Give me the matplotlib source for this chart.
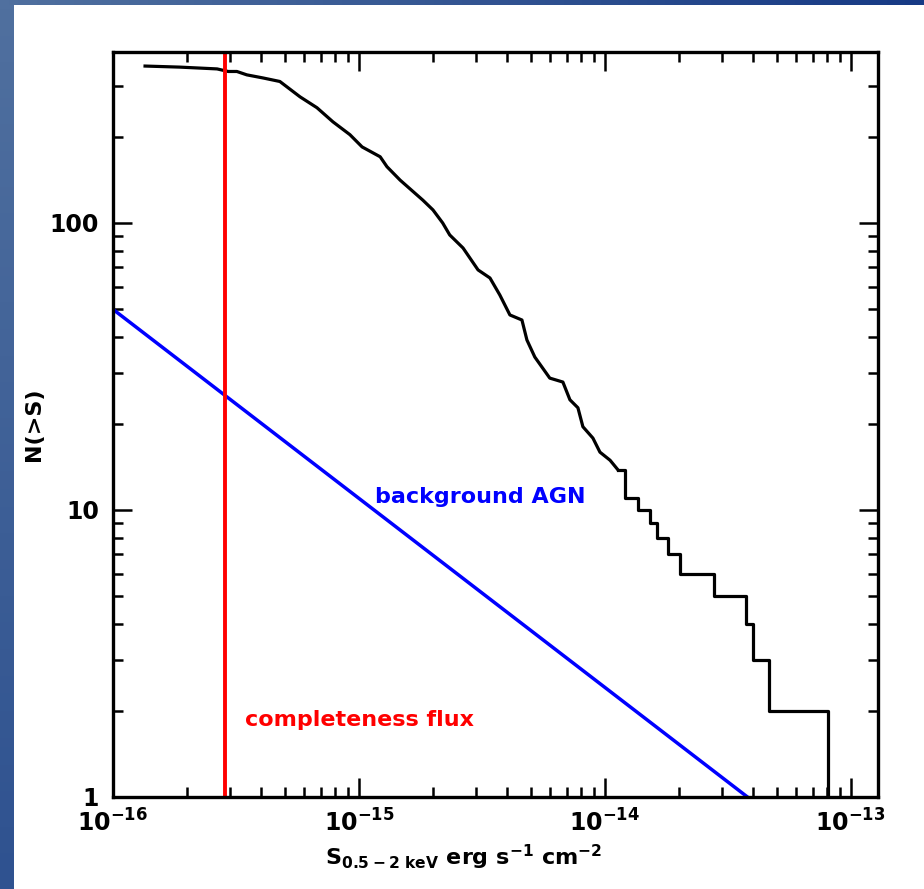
import numpy as np
import matplotlib
matplotlib.use("Agg")
import matplotlib.pyplot as plt
from matplotlib.ticker import FuncFormatter, NullFormatter
from matplotlib.colors import LinearSegmentedColormap

## Data
# N(>S), dense (well sampled) part of the curve
flux_dense = [1.35e-16, 1.87e-16, 2.65e-16, 2.94e-16, 3.19e-16, 3.5e-16, 4.07e-16,
              4.77e-16, 5.76e-16, 6.75e-16, 7.84e-16, 9.19e-16, 1.03e-15, 1.22e-15,
              1.30e-15, 1.47e-15, 1.82e-15, 2.0e-15, 2.19e-15, 2.34e-15, 2.65e-15,
              3.05e-15, 3.41e-15, 3.74e-15, 4.11e-15, 4.60e-15, 4.82e-15, 5.19e-15,
              5.97e-15, 6.75e-15, 7.21e-15, 7.77e-15, 8.14e-15, 8.94e-15, 9.55e-15,
              1.05e-14, 1.13e-14]
n_dense = [352, 349, 344, 337, 337, 328, 320, 311, 275, 252, 225, 203, 184, 170,
           157, 141, 120, 111, 100, 90.8, 81.8, 68.6, 64.3, 56.1, 47.8, 45.9, 39.1,
           34.1, 28.8, 27.9, 24.2, 22.7, 19.5, 17.8, 15.9, 14.9, 13.8]

# bright end: individual sources (flux where N drops, N after the drop)
flux_step = [1.21e-14, 1.37e-14, 1.52e-14, 1.63e-14, 1.80e-14, 2.02e-14,
             2.78e-14, 3.74e-14, 4.0e-14, 4.65e-14, 8.07e-14]
n_step = [11, 10, 9, 8, 7, 6, 5, 4, 3, 2, 1]

# background AGN expectation (straight line in log-log)
agn_flux = [1e-16, 3.8e-14]
agn_n = [50, 1]

# completeness flux
s_compl = 2.85e-16

## Style
plt.rcParams['font.family'] = ['DejaVu Sans']
plt.rcParams['font.weight'] = 'bold'
plt.rcParams['axes.labelweight'] = 'bold'
plt.rcParams['mathtext.default'] = 'bf'

fig = plt.figure(figsize=(9.24, 8.89), dpi=100)
fig.patch.set_facecolor('white')

## blue slide border (left and top)
left_strip = fig.add_axes([0, 0, 14 / 924, 1])
left_strip.imshow(np.linspace(0, 1, 100).reshape(-1, 1), aspect='auto',
                  cmap=LinearSegmentedColormap.from_list('l', ['#50709f', '#2f5290']))
left_strip.axis('off')
top_strip = fig.add_axes([0, 1 - 5 / 889, 1, 5 / 889])
top_strip.imshow(np.linspace(0, 1, 100).reshape(1, -1), aspect='auto',
                 cmap=LinearSegmentedColormap.from_list('t', ['#50709f', '#173a85']))
top_strip.axis('off')

ax = fig.add_axes([113 / 924, 1 - 797 / 889, 765 / 924, 745 / 889])

## Curves
ax.plot(flux_dense, n_dense, color='black', lw=2.3)
ax.step([flux_dense[-1]] + flux_step, [n_dense[-1]] + n_step, where='post',
        color='black', lw=2.3)
ax.plot(agn_flux, agn_n, color='blue', lw=2.5)
ax.axvline(s_compl, color='red', lw=2.8)

ax.set_xscale('log')
ax.set_yscale('log')
ax.set_xlim(1e-16, 1.29e-13)
ax.set_ylim(1, 394)

ax.xaxis.set_major_formatter(FuncFormatter(lambda v, p: r'$10^{%d}$' % round(np.log10(v))))
ax.yaxis.set_major_formatter(FuncFormatter(lambda v, p: '%g' % v))
ax.xaxis.set_minor_formatter(NullFormatter())
ax.yaxis.set_minor_formatter(NullFormatter())

ax.tick_params(which='both', direction='in', top=True, right=True, width=1.8)
ax.tick_params(which='major', length=14, labelsize=17)
ax.tick_params(axis='x', which='major', pad=9)
ax.tick_params(axis='y', which='major', pad=10)
ax.tick_params(which='minor', length=7)
for sp in ax.spines.values():
    sp.set_linewidth(2.4)

ax.set_xlabel(r'$S_{0.5-2\ keV}\ erg\ s^{-1}\ cm^{-2}$', fontsize=16)
ax.set_ylabel('N(>S)', fontsize=16)
ax.xaxis.set_label_coords(0.458, -0.062)
ax.yaxis.set_label_coords(-0.09, 0.5)

## annotations
ax.text(0.342, 0.403, 'background AGN', color='blue', fontsize=16,
        fontweight='bold', va='center', transform=ax.transAxes)
ax.text(0.1725, 0.103, 'completeness flux', color='red', fontsize=16,
        fontweight='bold', va='center', transform=ax.transAxes)

fig.savefig('out.png', dpi=100)
